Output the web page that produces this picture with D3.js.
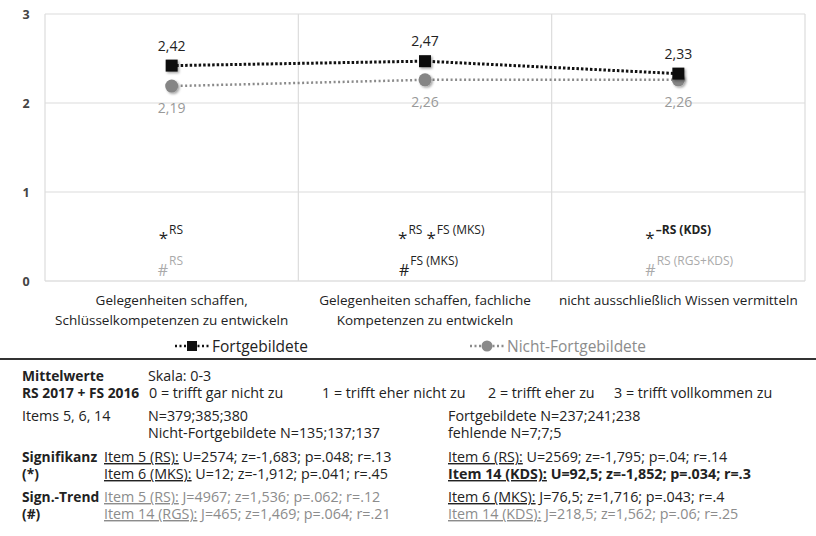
<!DOCTYPE html>
<html><head><meta charset="utf-8">
<script src="https://cdn.jsdelivr.net/npm/d3@7"></script>
<style>body{margin:0;background:#fff}svg{display:block}text{font-family:"Open Sans",sans-serif}</style>
</head><body><svg id="c" width="816" height="536"></svg>
<script>
// ---- data ----
const categories = [
  ["Gelegenheiten schaffen,", "Schlüsselkompetenzen zu entwickeln"],
  ["Gelegenheiten schaffen, fachliche", "Kompetenzen zu entwickeln"],
  ["nicht ausschließlich Wissen vermitteln"]
];
const fortValues = [2.42, 2.47, 2.33];
const nichtValues = [2.19, 2.26, 2.26];
const fortLabels = ["2,42", "2,47", "2,33"];
const nichtLabels = ["2,19", "2,26", "2,26"];
const yTicks = [0, 1, 2, 3];
const seriesNames = ["Fortgebildete", "Nicht-Fortgebildete"];
// significance marks per category
const starMarks = [[{t:"RS"}], [{t:"RS"}, {t:"FS (MKS)"}], [{t:"–RS (KDS)", bold:true}]];
const hashMarks = [{t:"RS", grey:true}, {t:"FS (MKS)", grey:false}, {t:"RS (RGS+KDS)", grey:true}];

// table rows
const tableRows = [
  {c0:"Mittelwerte", c0b:true, cells:[{x:148,t:"Skala: 0-3"}]},
  {c0:"RS 2017 + FS 2016", c0b:true, cells:[{x:149,t:"0 = trifft gar nicht zu"},{x:322,t:"1 = trifft eher nicht zu"},{x:488,t:"2 = trifft eher zu"},{x:614,t:"3 = trifft vollkommen zu"}]},
  {c0:"Items 5, 6, 14", cells:[{x:148,t:"N=379;385;380"},{x:448,t:"Fortgebildete N=237;241;238"}]},
  {c0:"", cells:[{x:148,t:"Nicht-Fortgebildete N=135;137;137"},{x:448,t:"fehlende N=7;7;5"}]},
  {c0:"Signifikanz", c0b:true, cells:[{x:104,u:"Item 5 (RS):",t:" U=2574; z=-1,683; p=.048; r=.13"},{x:448,u:"Item 6 (RS):",t:" U=2569; z=-1,795; p=.04; r=.14"}]},
  {c0:"(*)", c0b:true, cells:[{x:104,u:"Item 6 (MKS):",t:" U=12; z=-1,912; p=.041; r=.45"},{x:448,u:"Item 14 (KDS):",t:" U=92,5; z=-1,852; p=.034; r=.3",bold:true}]},
  {c0:"Sign.-Trend", c0b:true, cells:[{x:104,u:"Item 5 (RS):",t:" J=4967; z=1,536; p=.062; r=.12",grey:true},{x:448,u:"Item 6 (MKS):",t:" J=76,5; z=1,716; p=.043; r=.4"}]},
  {c0:"(#)", c0b:true, cells:[{x:104,u:"Item 14 (RGS):",t:" J=465; z=1,469; p=.064; r=.21",grey:true},{x:448,u:"Item 14 (KDS):",t:" J=218,5; z=1,562; p=.06; r=.25",grey:true}]}
];
const rowY = [381, 398, 421, 438, 462, 479, 502, 519];

// ---- drawing ----
const svg = d3.select("#c");
const L = 45, R = 805, T = 14, B = 281;
const dark = "#222";
const FS = 14.3;
const x = d3.scaleBand().domain(d3.range(categories.length)).range([L, R]);
const y = d3.scaleLinear().domain([0, 3]).range([B, T]);

const defs = svg.append("defs");
const f = defs.append("filter").attr("id","sh").attr("x","-50%").attr("y","-50%").attr("width","200%").attr("height","200%");
f.append("feDropShadow").attr("dx",1.5).attr("dy",1.5).attr("stdDeviation",1.2).attr("flood-color","#000").attr("flood-opacity",0.35);

// grid
const g = svg.append("g");
g.selectAll("line.h").data(yTicks).join("line")
  .attr("x1", L).attr("x2", R).attr("y1", d => y(d)).attr("y2", d => y(d))
  .attr("stroke", d => d === 0 ? "#cfcfcf" : "#dcdcdc").attr("stroke-width", 1.2);
const vlines = d3.range(categories.length + 1).map(i => i < categories.length ? x(i) : R);
g.selectAll("line.v").data(vlines).join("line")
  .attr("x1", d => d).attr("x2", d => d).attr("y1", T).attr("y2", B)
  .attr("stroke", "#dcdcdc").attr("stroke-width", 1.2);

// y axis labels
const yAxis = d3.axisLeft(y).tickValues(yTicks).tickSize(0).tickPadding(0).tickFormat(d3.format("d"));
const ya = svg.append("g").attr("transform", `translate(${26},0)`).call(yAxis);
ya.select(".domain").remove();
ya.selectAll("text").attr("font-size", 12.5).attr("font-weight", "bold").attr("fill", "#444")
  .attr("font-family", "'Open Sans',sans-serif").attr("text-anchor", "middle");

// category labels
const cx = i => x(i) + x.bandwidth() / 2;
categories.forEach((lines, i) => {
  const t = svg.append("text").attr("x", cx(i)).attr("y", 305).attr("text-anchor", "middle")
    .attr("font-size", 13.5).attr("fill", dark);
  lines.forEach((ln, j) => t.append("tspan").attr("x", cx(i)).attr("dy", j ? 20 : 0).text(ln));
});

// lines
const line = d3.line().x((d, i) => cx(i)).y(d => y(d));
svg.append("path").datum(nichtValues).attr("d", line).attr("fill", "none")
  .attr("stroke", "#8a8a8a").attr("stroke-width", 2.5).attr("stroke-dasharray", "2,2.5");
svg.append("path").datum(fortValues).attr("d", line).attr("fill", "none")
  .attr("stroke", "#111").attr("stroke-width", 3).attr("stroke-dasharray", "2.5,2");

// markers
svg.selectAll("circle.n").data(nichtValues).join("circle")
  .attr("cx", (d, i) => cx(i)).attr("cy", d => y(d)).attr("r", 6.5)
  .attr("fill", "#858585").attr("filter", "url(#sh)");
svg.selectAll("rect.f").data(fortValues).join("rect")
  .attr("x", (d, i) => cx(i) - 6).attr("y", d => y(d) - 6).attr("width", 12).attr("height", 12)
  .attr("fill", "#111").attr("filter", "url(#sh)");

// value labels
svg.selectAll("text.fl").data(fortValues).join("text")
  .attr("x", (d, i) => cx(i)).attr("y", d => y(d) - 15).attr("text-anchor", "middle")
  .attr("font-size", 14).attr("fill", dark).text((d, i) => fortLabels[i]);
svg.selectAll("text.nl").data(nichtValues).join("text")
  .attr("x", (d, i) => cx(i)).attr("y", d => y(d) + 27).attr("text-anchor", "middle")
  .attr("font-size", 14).attr("fill", "#999").text((d, i) => nichtLabels[i]);

// significance marks
const starOff = [-13, -27, -33];
starMarks.forEach((marks, i) => {
  const t = svg.append("text").attr("x", cx(i) + starOff[i]).attr("y", y(0.5) + 7).attr("fill", dark);
  marks.forEach((m, j) => {
    t.append("tspan").attr("font-size", 17).attr("dy", j ? 10 : 0).attr("dx", j ? 4 : 0).text("*");
    t.append("tspan").attr("font-size", 12).attr("dy", -10).attr("dx", 1)
      .attr("font-weight", m.bold ? "bold" : null).text(m.t);
  });
});
const hashOff = [-14, -26, -33];
hashMarks.forEach((m, i) => {
  const t = svg.append("text").attr("x", cx(i) + hashOff[i]).attr("y", y(0.1) + 4).attr("fill", m.grey ? "#aaa" : dark);
  t.append("tspan").attr("font-size", 16).text("#");
  t.append("tspan").attr("font-size", 12).attr("dy", -11).attr("dx", 1).text(m.t);
});

// legend
const legY = 346;
const leg = [{x:175, name:seriesNames[0], col:"#111", tcol:dark, sq:true}, {x:470, name:seriesNames[1], col:"#8a8a8a", tcol:"#8c8c8c", sq:false}];
leg.forEach(l => {
  svg.append("line").attr("x1", l.x).attr("x2", l.x + 36).attr("y1", legY).attr("y2", legY)
    .attr("stroke", l.col).attr("stroke-width", 2.5).attr("stroke-dasharray", "2,2.5");
  if (l.sq) svg.append("rect").attr("x", l.x + 12).attr("y", legY - 5).attr("width", 10).attr("height", 10).attr("fill", l.col);
  else svg.append("circle").attr("cx", l.x + 17).attr("cy", legY).attr("r", 5.5).attr("fill", l.col);
  svg.append("text").attr("x", l.x + 37).attr("y", legY + 5.5).attr("font-size", 15.5).attr("fill", l.tcol).text(l.name);
});

// separator
svg.append("line").attr("x1", 0).attr("x2", 816).attr("y1", 359).attr("y2", 359).attr("stroke", "#333").attr("stroke-width", 2);

// table
tableRows.forEach((r, i) => {
  const yy = rowY[i];
  if (r.c0) svg.append("text").attr("x", 22).attr("y", yy).attr("font-size", r.c0b ? 13.8 : FS)
    .attr("font-weight", r.c0b ? "bold" : null).attr("fill", dark).text(r.c0);
  r.cells.forEach(c => {
    const t = svg.append("text").attr("x", c.x).attr("y", yy).attr("font-size", FS)
      .attr("fill", c.grey ? "#8c8c8c" : dark).attr("font-weight", c.bold ? "bold" : null);
    if (c.u) t.append("tspan").attr("text-decoration", "underline").text(c.u);
    t.append("tspan").text(c.t);
  });
});
</script></body></html>
